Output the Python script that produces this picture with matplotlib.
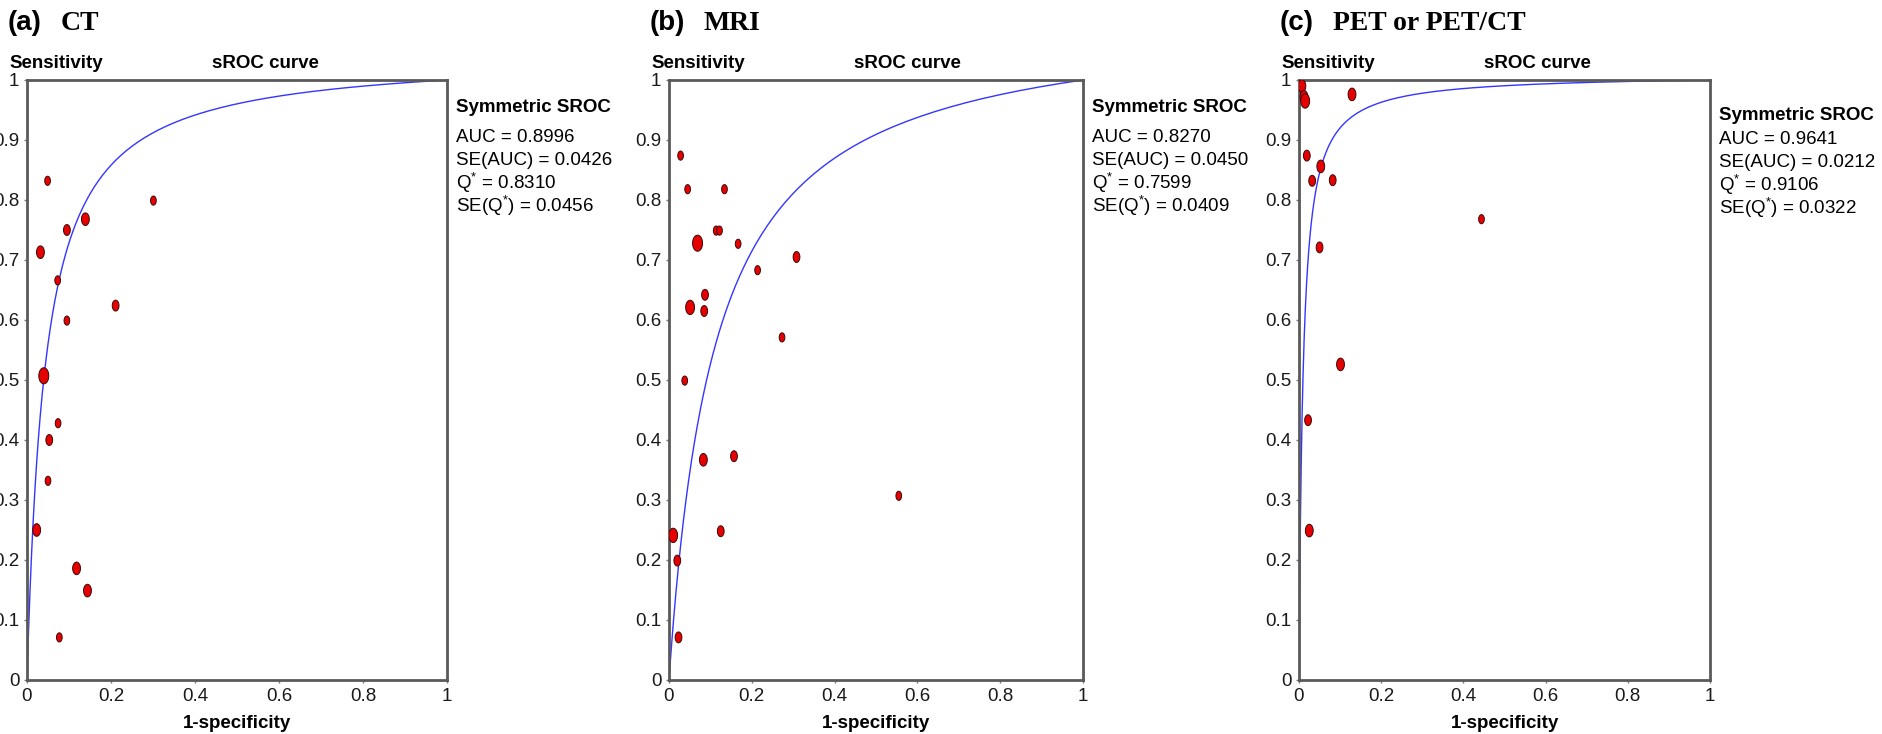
import numpy as np
import matplotlib
matplotlib.use("Agg")
import matplotlib.pyplot as plt

plt.rcParams['font.family'] = ['Liberation Sans', 'DejaVu Sans']
plt.rcParams['mathtext.fontset'] = 'custom'
plt.rcParams['mathtext.rm'] = 'Liberation Sans'
plt.rcParams['mathtext.it'] = 'Liberation Sans'

# ---- data ----
panel_tags = ['(a)', '(b)', '(c)']
panel_names = ['CT', 'MRI', 'PET or PET/CT']

auc = ['0.8996', '0.8270', '0.9641']
se_auc = ['0.0426', '0.0450', '0.0212']
q_star = ['0.8310', '0.7599', '0.9106']
se_q = ['0.0456', '0.0409', '0.0322']

# study points (1-specificity, sensitivity, relative weight 1..3)
ct_fpr = [0.049, 0.301, 0.139, 0.095, 0.032, 0.073, 0.211, 0.095,
          0.040, 0.074, 0.053, 0.050, 0.023, 0.118, 0.144, 0.077]
ct_sens = [0.832, 0.799, 0.768, 0.750, 0.713, 0.666, 0.624, 0.599,
           0.507, 0.428, 0.400, 0.332, 0.250, 0.186, 0.149, 0.071]
ct_weight = [1, 1, 2, 1.5, 2, 1, 1.5, 1, 3, 1, 1.5, 1, 2, 2, 2, 1]

mri_fpr = [0.028, 0.045, 0.134, 0.114, 0.122, 0.069, 0.167, 0.308,
           0.214, 0.087, 0.051, 0.085, 0.273, 0.038, 0.083, 0.157,
           0.555, 0.010, 0.125, 0.020, 0.023]
mri_sens = [0.874, 0.818, 0.818, 0.749, 0.749, 0.728, 0.727, 0.705,
            0.683, 0.642, 0.621, 0.615, 0.571, 0.499, 0.367, 0.373,
            0.307, 0.241, 0.248, 0.199, 0.071]
mri_weight = [1, 1, 1, 1, 1, 3, 1, 1.5, 1, 1.5, 2.5, 1.5, 1, 1, 2, 1.5,
              1, 2.5, 1.5, 1.5, 1.5]

pet_fpr = [0.007, 0.012, 0.015, 0.129, 0.019, 0.053, 0.032, 0.082,
           0.444, 0.050, 0.101, 0.022, 0.025]
pet_sens = [0.990, 0.972, 0.965, 0.976, 0.874, 0.856, 0.832, 0.833,
            0.768, 0.721, 0.526, 0.433, 0.249]
pet_weight = [2, 2, 2.5, 2, 1.5, 2, 1.5, 1.5, 1, 1.5, 2, 1.5, 2]

fprs = [ct_fpr, mri_fpr, pet_fpr]
senss = [ct_sens, mri_sens, pet_sens]
weights = [ct_weight, mri_weight, pet_weight]

ticks = [0, 0.2, 0.4, 0.6, 0.8, 1]
tick_labels = ['0', '0.2', '0.4', '0.6', '0.8', '1']
yticks = [0, 0.1, 0.2, 0.3, 0.4, 0.5, 0.6, 0.7, 0.8, 0.9, 1]
ytick_labels = ['0', '0.1', '0.2', '0.3', '0.4', '0.5', '0.6', '0.7', '0.8', '0.9', '1']

# ---- layout (pixels) ----
W, H = 1882, 734
fig = plt.figure(figsize=(W / 100, H / 100), dpi=100)
ax_left = [27, 669, 1299]
ax_width = [420, 414, 411]
ax_top, ax_bottom = 80, 680

FS = 13.5
spine_col = '#5a5a5a'

# tall ellipse marker
t = np.linspace(0, 2 * np.pi, 48)
ellipse = np.column_stack([0.62 * np.cos(t), np.sin(t)])


def fx(px):
    return px / W


def fy(py):
    return 1 - py / H


for i in range(3):
    l, w = ax_left[i], ax_width[i]
    ax = fig.add_axes([fx(l), fy(ax_bottom), w / W, (ax_bottom - ax_top) / H])

    # symmetric sROC curve from Q*
    q = float(q_star[i])
    a = 2 * np.log(q / (1 - q))
    x = np.concatenate([[0], np.logspace(-6, 0, 500)])
    y = np.zeros_like(x)
    y[1:] = 1 / (1 + np.exp(-a) * (1 - x[1:]) / x[1:])
    ax.plot(x, y, color='#3535ff', lw=1.0, zorder=2)

    sizes = [(6.6 + 2.5 * (wt - 1)) ** 2 for wt in weights[i]]
    ax.scatter(fprs[i], senss[i], s=sizes, marker=ellipse, c='#e60000',
               edgecolors='#3a0a0a', linewidths=0.7, zorder=3)

    ax.set_xlim(0, 1)
    ax.set_ylim(0, 1)
    ax.set_xticks(ticks)
    ax.set_xticklabels(tick_labels)
    ax.set_yticks(yticks)
    ax.set_yticklabels(ytick_labels)
    ax.tick_params(axis='both', length=2.5, width=1, color='#777777',
                   labelsize=FS, labelcolor='#1a1a1a', pad=3)
    for sp in ax.spines.values():
        sp.set_color(spine_col)
        sp.set_linewidth(2.0)

    # panel title
    fig.text(fx(l - 19), fy(23), panel_tags[i], fontsize=20, fontweight='bold',
             ha='left', va='center')
    fig.text(fx(l + 34), fy(24), panel_names[i], fontsize=20, fontweight='bold',
             family=['Liberation Serif'], ha='left', va='center')

    fig.text(fx(l - 18), fy(63), 'Sensitivity', fontsize=FS, fontweight='bold',
             ha='left', va='center')
    fig.text(fx(l + 185), fy(63), 'sROC curve', fontsize=FS, fontweight='bold',
             ha='left', va='center')
    fig.text(fx(l + w / 2), fy(724), '1-specificity', fontsize=FS,
             fontweight='bold', ha='center', va='center')

    # stats block
    r = l + w + 9
    top = 115 if i == 2 else 107
    fig.text(fx(r), fy(top), 'Symmetric SROC', fontsize=FS, fontweight='bold',
             ha='left', va='center')
    base = 140 if i == 2 else 138
    lines = ['AUC = ' + auc[i], 'SE(AUC) = ' + se_auc[i],
             r'Q$^{*}$ = ' + q_star[i], r'SE(Q$^{*}$) = ' + se_q[i]]
    for k, s in enumerate(lines):
        fig.text(fx(r), fy(base + 22.5 * k), s, fontsize=FS, ha='left',
                 va='center')

fig.savefig('out.png', dpi=100)
